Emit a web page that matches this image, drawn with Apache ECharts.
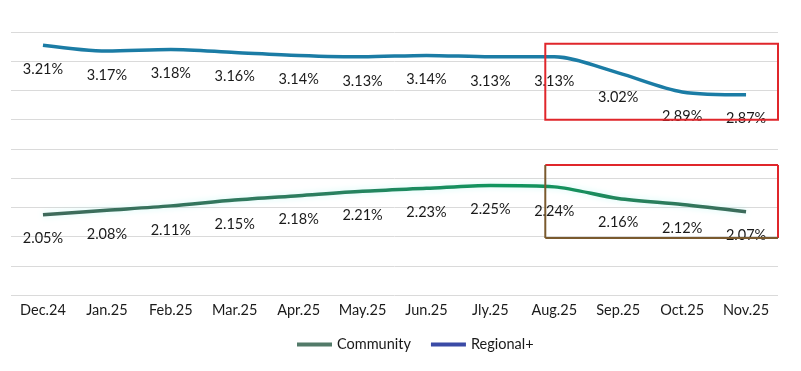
<!DOCTYPE html>
<html>
<head>
<meta charset="utf-8">
<script src="https://cdn.jsdelivr.net/npm/echarts@6/dist/echarts.min.js"></script>
<style>
html,body{margin:0;padding:0;background:#fff;}
#chart{width:801px;height:371px;}
</style>
</head>
<body>
<div id="chart"></div>
<script>
const categories = ['Dec.24','Jan.25','Feb.25','Mar.25','Apr.25','May.25','Jun.25','Jly.25','Aug.25','Sep.25','Oct.25','Nov.25'];
const communityValues = [2.05, 2.08, 2.11, 2.15, 2.18, 2.21, 2.23, 2.25, 2.24, 2.16, 2.12, 2.07];
const regionalValues = [3.21, 3.17, 3.18, 3.16, 3.14, 3.13, 3.14, 3.13, 3.13, 3.02, 2.89, 2.87];
const seriesNames = ['Community', 'Regional+'];
const highlightFrom = 'Aug.25';
const regionalBox = [3.22, 2.70];
const communityBox = [2.39, 1.89];

const chart = echarts.init(document.getElementById('chart'));
const FONT = 'Lato';
const labelCfg = {
  show: true, position: 'bottom', distance: 16,
  fontFamily: FONT, fontSize: 14.5, color: '#1a1a1a',
  formatter: p => p.value.toFixed(2) + '%'
};
const option = {
  animation: false,
  backgroundColor: '#fff',
  grid: {left: 11, right: 23, top: 32, bottom: 76, containLabel: false},
  xAxis: {
    type: 'category', data: categories, boundaryGap: true,
    axisLine: {show: false}, axisTick: {show: false},
    axisLabel: {fontFamily: FONT, fontSize: 14.5, color: '#1a1a1a', margin: 8}
  },
  yAxis: {
    type: 'value', min: 1.5, max: 3.3, interval: 0.2,
    axisLabel: {show: false}, axisLine: {show: false}, axisTick: {show: false},
    splitLine: {lineStyle: {color: '#dadada', width: 1}}
  },
  legend: {
    left: 292, top: 332, itemGap: 20, itemWidth: 35, itemHeight: 4, icon: 'rect',
    textStyle: {fontFamily: FONT, fontSize: 14.5, color: '#1a1a1a'},
    data: [
      {name: seriesNames[0], itemStyle: {color: '#527a69'}},
      {name: seriesNames[1], itemStyle: {color: '#3b4ba6'}}
    ]
  },
  series: [
    {
      name: seriesNames[0], type: 'line', data: communityValues,
      smooth: 0.3, symbol: 'circle', symbolSize: 1, showSymbol: true,
      lineStyle: {
        width: 3.5,
        color: new echarts.graphic.LinearGradient(0, 0, 1, 0, [
          {offset: 0, color: '#3e6a5b'},
          {offset: 0.4, color: '#2a7f5f'},
          {offset: 0.65, color: '#0f965f'},
          {offset: 0.75, color: '#16905d'},
          {offset: 1, color: '#3e6a5b'}
        ]),
        shadowColor: 'rgba(120,240,230,0.35)', shadowBlur: 6
      },
      itemStyle: {color: 'rgba(0,0,0,0)'},
      label: labelCfg
    },
    {
      name: seriesNames[1], type: 'line', data: regionalValues,
      smooth: 0.3, symbol: 'circle', symbolSize: 1, showSymbol: true,
      lineStyle: {width: 3.5, color: '#1b7ca5'},
      itemStyle: {color: 'rgba(0,0,0,0)'},
      label: labelCfg
    }
  ]
};
chart.setOption(option);

function drawBoxes() {
  const gridRect = chart.getModel().getComponent('grid', 0).coordinateSystem.getRect();
  const right = gridRect.x + gridRect.width;
  const p1 = chart.convertToPixel({gridIndex: 0}, [highlightFrom, regionalBox[0]]);
  const p2 = chart.convertToPixel({gridIndex: 0}, [highlightFrom, regionalBox[1]]);
  const q1 = chart.convertToPixel({gridIndex: 0}, [highlightFrom, communityBox[0]]);
  const q2 = chart.convertToPixel({gridIndex: 0}, [highlightFrom, communityBox[1]]);
  const left = p1[0] - 9;
  const red = '#e0262b', brown = '#7a5a2e';
  const seg = (x1, y1, x2, y2, c) => ({type: 'line', shape: {x1, y1, x2, y2}, style: {stroke: c, lineWidth: 2}, z: 10});
  chart.setOption({
    graphic: [
      {type: 'rect', shape: {x: left, y: p1[1], width: right - left, height: p2[1] - p1[1]},
       style: {fill: 'none', stroke: red, lineWidth: 2}, z: 10},
      seg(left, q1[1], right, q1[1], red),
      seg(right, q1[1], right, q2[1], red),
      seg(left, q1[1], left, q2[1], brown),
      seg(left, q2[1], right, q2[1], brown)
    ]
  });
}
drawBoxes();
</script>
</body>
</html>
